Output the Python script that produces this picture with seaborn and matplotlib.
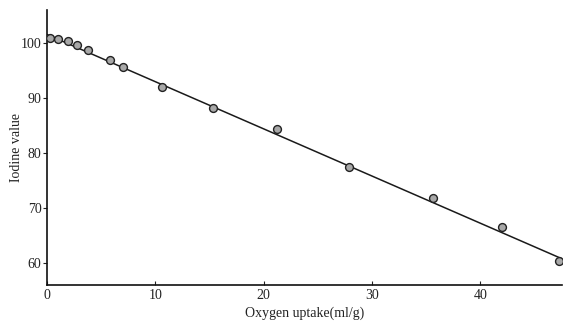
import matplotlib
matplotlib.use("Agg")
import matplotlib.pyplot as plt
import seaborn as sns
import pandas as pd

# data
oxygen_uptake = [0.3, 1.0, 1.9, 2.8, 3.8, 5.8, 7.0, 10.6, 15.3, 21.2, 27.9, 35.6, 42.0, 47.3]
iodine_value = [100.9, 100.7, 100.4, 99.6, 98.7, 96.9, 95.6, 92.0, 88.2, 84.4, 77.5, 71.8, 66.5, 60.4]
line_x = [0.0, 47.5]
line_y = [101.5, 60.8]
x_ticks = [0, 10, 20, 30, 40]
y_ticks = [60, 70, 80, 90, 100]

sns.set_theme(style="ticks")
plt.rcParams['font.family'] = ['Liberation Serif', 'DejaVu Serif']

fig = plt.figure(figsize=(5.63, 3.25), dpi=100)
ax = fig.add_axes([0.0835, 0.123, 0.914, 0.847])

pts = pd.DataFrame({"x": oxygen_uptake, "y": iodine_value})
ln = pd.DataFrame({"x": line_x, "y": line_y})

sns.lineplot(data=ln, x="x", y="y", ax=ax, color="#1a1a1a", linewidth=1.1)
sns.scatterplot(data=pts, x="x", y="y", ax=ax, s=32, color="#a8a8a8",
                edgecolor="#222222", linewidth=1.0, zorder=3)

ax.set_xlim(0, 47.5)
ax.set_ylim(56, 106)
ax.set_xticks(x_ticks)
ax.set_yticks(y_ticks)
ax.tick_params(axis="x", labelsize=10, length=3, width=0.8, direction="in", colors="#222222", pad=3)
ax.tick_params(axis="y", labelsize=10, length=3, width=0.8, direction="out", colors="#222222", pad=1)
for s in ["top", "right"]:
    ax.spines[s].set_visible(False)
for s in ["left", "bottom"]:
    ax.spines[s].set_color("#111111")
    ax.spines[s].set_linewidth(1.2)

ax.set_xlabel("Oxygen uptake(ml/g)", fontsize=10, labelpad=3, color="#222222")
ax.set_ylabel("Iodine value", fontsize=10, color="#222222")
ax.yaxis.set_label_coords(-0.047, 0.5)

fig.savefig("out.png", dpi=100)
